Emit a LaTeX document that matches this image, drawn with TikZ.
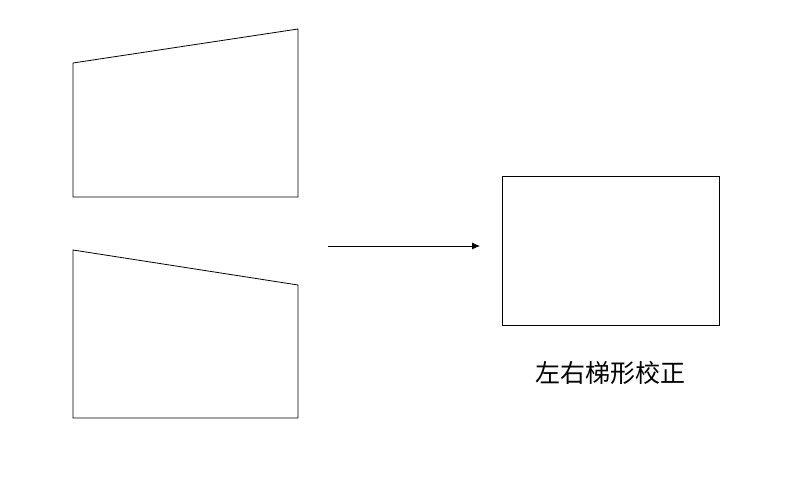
\documentclass[tikz,border=0pt]{standalone}
\usepackage{fontspec}
\newfontfamily\cjk{Noto Sans CJK SC}
\usetikzlibrary{arrows.meta}

\begin{document}
\begin{tikzpicture}[x=1pt, y=-1pt, line width=0.8pt]
          \useasboundingbox [fill=white] (0, 0) rectangle (799, 500);

          % Trapezoids
          \draw (73, 63) -- (298, 29) -- (298, 197) -- (73, 197) -- cycle;
          \draw (73, 250) -- (298, 285) -- (298, 418) -- (73, 418) -- cycle;

          % Arrow
          \coordinate (arrowstart) at (328, 246);
          \coordinate (arrowend) at (480, 246);
          \draw [-{Latex[length=8pt, width=7pt]}] (arrowstart) -- (arrowend);

          % Corrected
          \draw (502, 176) rectangle (719, 325);
          \node (label) at (610, 373) {\cjk\fontsize{25}{30}\selectfont 左右梯形校正};
        \end{tikzpicture}
\end{document}
